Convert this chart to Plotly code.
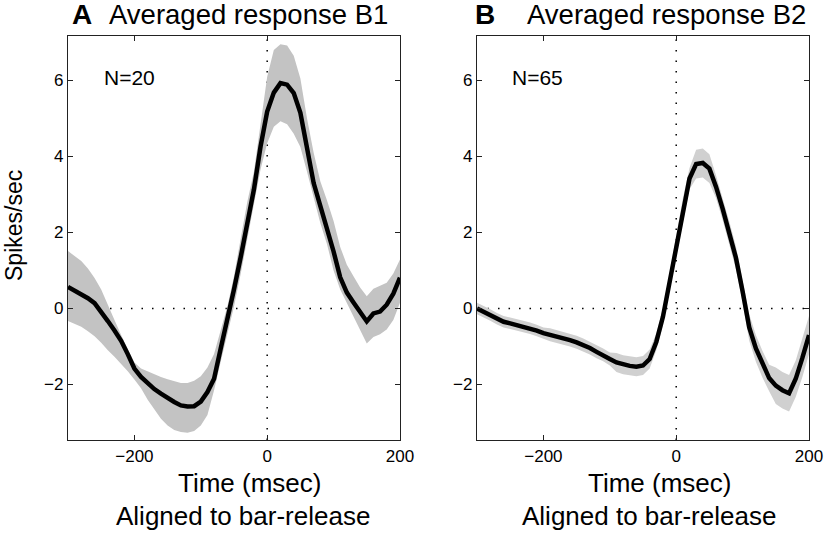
import plotly.graph_objects as go

time_ms = [-300, -290, -280, -270, -260, -250, -240, -230, -220, -210, -200,
           -190, -180, -170, -160, -150, -140, -130, -120, -110, -100,
           -90, -80, -70, -60, -50, -40, -30, -20, -10, 0,
           10, 20, 30, 40, 50, 60, 70, 80, 90, 100,
           110, 120, 130, 140, 150, 160, 170, 180, 190, 200]

b1_mean = [0.57, 0.48, 0.39, 0.27, 0.14, -0.08, -0.33, -0.58, -0.85, -1.2, -1.58,
           -1.8, -1.98, -2.12, -2.24, -2.36, -2.46, -2.55, -2.58, -2.57, -2.45,
           -2.2, -1.85, -1.05, -0.3, 0.5, 1.34, 2.29, 3.13, 4.26, 5.18,
           5.68, 5.93, 5.89, 5.67, 5.15, 4.15, 3.3, 2.7, 2.13, 1.5,
           0.82, 0.42, 0.16, -0.1, -0.34, -0.13, -0.08, 0.1, 0.39, 0.81]
b1_upper = [1.51, 1.38, 1.25, 1.05, 0.8, 0.5, 0.12, -0.3, -0.7, -1.08, -1.42,
            -1.58, -1.66, -1.73, -1.8, -1.86, -1.92, -1.96, -1.96, -1.9, -1.78,
            -1.55, -1.2, -0.6, 0.05, 0.85, 1.8, 2.8, 3.6, 4.9, 6.1,
            6.8, 6.95, 6.92, 6.65, 6.05, 5.0, 4.1, 3.35, 2.85, 2.3,
            1.62, 1.15, 0.85, 0.55, 0.32, 0.52, 0.6, 0.68, 0.92, 1.29]
b1_lower = [-0.33, -0.4, -0.48, -0.6, -0.73, -0.9, -1.1, -1.27, -1.45, -1.65, -1.87,
            -2.1, -2.4, -2.65, -2.9, -3.08, -3.2, -3.25, -3.27, -3.22, -3.08,
            -2.8, -2.15, -1.4, -0.7, 0.05, 0.9, 1.85, 2.8, 3.66, 4.35,
            4.78, 4.93, 4.85, 4.6, 4.25, 3.6, 2.9, 2.25, 1.7, 1.0,
            0.5, 0.15, -0.2, -0.55, -0.92, -0.75, -0.68, -0.55, -0.3, 0.15]

b2_mean = [0.0, -0.08, -0.17, -0.27, -0.35, -0.39, -0.43, -0.47, -0.52, -0.58, -0.65,
           -0.69, -0.74, -0.78, -0.83, -0.89, -0.96, -1.04, -1.14, -1.22, -1.33,
           -1.42, -1.48, -1.51, -1.53, -1.5, -1.33, -0.88, -0.22, 0.7, 1.65,
           2.62, 3.42, 3.8, 3.83, 3.68, 3.2, 2.62, 1.99, 1.33, 0.45,
           -0.5, -1.05, -1.47, -1.83, -2.03, -2.15, -2.23, -1.85, -1.3, -0.7]
b2_upper = [0.15, 0.07, -0.02, -0.12, -0.2, -0.24, -0.28, -0.32, -0.37, -0.43, -0.5,
            -0.52, -0.57, -0.61, -0.66, -0.72, -0.79, -0.87, -0.97, -1.05, -1.16,
            -1.17, -1.23, -1.26, -1.28, -1.25, -1.08, -0.66, 0.0, 0.92, 1.93,
            2.9, 3.7, 4.18, 4.21, 4.06, 3.5, 2.92, 2.29, 1.63, 0.75,
            -0.15, -0.7, -1.12, -1.48, -1.55, -1.67, -1.75, -1.37, -0.8, -0.2]
b2_lower = [-0.15, -0.23, -0.32, -0.42, -0.5, -0.54, -0.58, -0.62, -0.67, -0.73, -0.8,
            -0.86, -0.91, -0.95, -1.0, -1.06, -1.13, -1.21, -1.31, -1.39, -1.5,
            -1.67, -1.73, -1.76, -1.78, -1.75, -1.58, -1.1, -0.44, 0.48, 1.37,
            2.34, 3.14, 3.42, 3.45, 3.3, 2.9, 2.32, 1.69, 1.03, 0.15,
            -0.85, -1.4, -1.82, -2.18, -2.51, -2.63, -2.71, -2.33, -1.8, -1.2]

x_ticks = [-200, 0, 200]
y_ticks = [-2, 0, 2, 4, 6]
panel_letters = ["A", "B"]
panel_titles = ["Averaged response B1", "Averaged response B2"]
n_labels = ["N=20", "N=65"]
x_title_1 = "Time (msec)"
x_title_2 = "Aligned to bar-release"
y_title = "Spikes/sec"

FONT = "Liberation Sans, Arial, Helvetica, sans-serif"

fig = go.Figure()

panels = [
    ("x", "y", b1_mean, b1_upper, b1_lower, "rgb(195,195,195)"),
    ("x2", "y2", b2_mean, b2_upper, b2_lower, "rgb(208,208,208)"),
]
for xa, ya, mean, up, lo, band in panels:
    fig.add_trace(go.Scatter(x=time_ms, y=up, xaxis=xa, yaxis=ya, mode="lines",
                             line=dict(width=0, color=band), hoverinfo="skip",
                             showlegend=False))
    fig.add_trace(go.Scatter(x=time_ms, y=lo, xaxis=xa, yaxis=ya, mode="lines",
                             line=dict(width=0, color=band), fill="tonexty",
                             fillcolor=band, hoverinfo="skip", showlegend=False))
    fig.add_trace(go.Scatter(x=time_ms, y=mean, xaxis=xa, yaxis=ya, mode="lines",
                             line=dict(width=4.5, color="black"),
                             showlegend=False))

axis_common = dict(
    range=[-300, 200], tickvals=x_ticks, ticks="inside", ticklen=5,
    tickcolor="#222", showline=True, linecolor="#222", linewidth=1.2,
    mirror="ticks", showgrid=False, zeroline=False, automargin=False,
    tickfont=dict(family=FONT, size=17, color="black"),
)
yaxis_common = dict(
    range=[-3.46, 7.17], tickvals=y_ticks, ticks="inside", ticklen=5,
    tickcolor="#222", showline=True, linecolor="#222", linewidth=1.2,
    mirror="ticks", showgrid=False, zeroline=False, automargin=False,
    tickfont=dict(family=FONT, size=17, color="black"),
)

dA = [0, 0.448]
dB = [0.552, 1]
fig.update_layout(
    width=825, height=536,
    margin=dict(l=68, r=16, t=36, b=96),
    paper_bgcolor="white", plot_bgcolor="white",
    xaxis=dict(domain=dA, anchor="y", **axis_common),
    yaxis=dict(domain=[0, 1], anchor="x", **yaxis_common),
    xaxis2=dict(domain=dB, anchor="y2", **axis_common),
    yaxis2=dict(domain=[0, 1], anchor="x2", **yaxis_common),
    font=dict(family=FONT, color="black"),
    hovermode=False,
)

dot = dict(color="black", width=1.5, dash="1.5px,9px")
for xr, yr in [("x", "y"), ("x2", "y2")]:
    fig.add_shape(type="line", xref=xr + " domain", yref=yr, x0=0, x1=1, y0=0, y1=0,
                  line=dot, layer="below")
    fig.add_shape(type="line", xref=xr, yref=yr + " domain", x0=0, x1=0, y0=0, y1=1,
                  line=dot, layer="below")

W = 741.0
H = 404.0
def px(xp):
    return (xp - 68) / W
def py(yp):
    return (440 - yp) / H

ann = []
for i, (lx, tx, nx, cx1, cx2) in enumerate([(70, 107, 102, 249, 243), (473, 525, 510, 659, 649)]):
    ann.append(dict(text="<b>%s</b>" % panel_letters[i], x=px(lx), y=py(15), xref="paper", yref="paper",
                    xanchor="left", yanchor="middle", showarrow=False,
                    font=dict(family=FONT, size=28, color="black")))
    ann.append(dict(text=panel_titles[i], x=px(tx), y=py(15), xref="paper", yref="paper",
                    xanchor="left", yanchor="middle", showarrow=False,
                    font=dict(family=FONT, size=27.5, color="black")))
    ann.append(dict(text=n_labels[i], x=px(nx), y=py(77), xref="paper", yref="paper",
                    xanchor="left", yanchor="middle", showarrow=False,
                    font=dict(family=FONT, size=21, color="black")))
    ann.append(dict(text=x_title_1, x=px(cx1), y=py(483), xref="paper", yref="paper",
                    xanchor="center", yanchor="middle", showarrow=False,
                    font=dict(family=FONT, size=26, color="black")))
    ann.append(dict(text=x_title_2, x=px(cx2), y=py(516), xref="paper", yref="paper",
                    xanchor="center", yanchor="middle", showarrow=False,
                    font=dict(family=FONT, size=26, color="black")))
ann.append(dict(text=y_title, x=px(14), y=py(226), xref="paper", yref="paper",
                xanchor="center", yanchor="middle", showarrow=False, textangle=-90,
                font=dict(family=FONT, size=23, color="black")))
fig.update_layout(annotations=ann)

# remove the default 8px page margin so the figure fills the window exactly
fig.write_html("out.html",
               config={"displayModeBar": False, "staticPlot": True},
               post_script="document.body.style.margin='0';document.body.style.overflow='hidden';")
